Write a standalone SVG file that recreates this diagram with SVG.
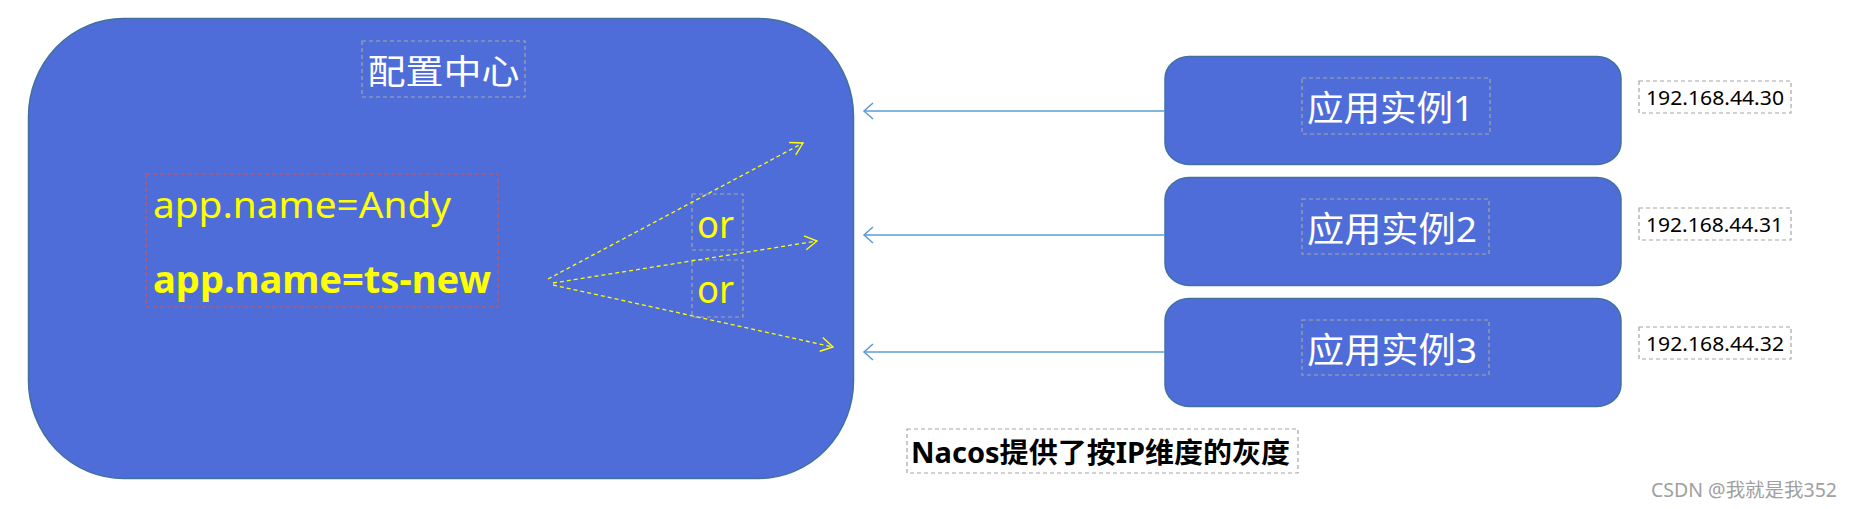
<svg xmlns="http://www.w3.org/2000/svg" width="1851" height="509" viewBox="0 0 1851 509">
<defs>
<style>
.node{fill:#4E6DD9;stroke:#41719C;stroke-width:1.5}
.gbox{fill:none;stroke:#A6A6A6;stroke-width:1.2;stroke-dasharray:4 3}
.rbox{fill:none;stroke:#D9534F;stroke-width:1.2;stroke-dasharray:4 3}
.wt{fill:#FFFFFF;font-family:"Noto Sans","Noto Sans CJK SC",sans-serif}
.yt{fill:#FFFF00;font-family:"Noto Sans","Noto Sans CJK SC",sans-serif}
.bt{fill:#000000;font-family:"Noto Sans","Noto Sans CJK SC",sans-serif}
.blue{stroke:#5B9BD5;stroke-width:1.5;fill:none}
.yel{stroke:#FFFF00;stroke-width:1.3;fill:none;stroke-dasharray:4 3}
</style>
<marker id="ab" markerWidth="12" markerHeight="18" refX="10" refY="9" orient="auto" markerUnits="userSpaceOnUse">
<path d="M1,1 L10,9 L1,17" fill="none" stroke="#5B9BD5" stroke-width="1.5"/>
</marker>
<marker id="ay" markerWidth="16" markerHeight="16" refX="15" refY="8" orient="auto" markerUnits="userSpaceOnUse">
<path d="M3,1 L15,8 L3,15" fill="none" stroke="#FFFF00" stroke-width="1.4"/>
</marker>
</defs>
<rect width="1851" height="509" fill="#FFFFFF"/>

<g id="config-center">
<rect class="node" x="28.5" y="18.5" width="825" height="460" rx="95" ry="98"/>
<rect class="gbox" x="362" y="41" width="163" height="56"/>
<text class="wt" x="443.5" y="84" font-size="34" text-anchor="middle" textLength="152" lengthAdjust="spacingAndGlyphs">配置中心</text>
<rect class="rbox" x="146" y="174" width="352" height="133"/>
<text class="yt" x="153" y="218" font-size="37" textLength="298" lengthAdjust="spacingAndGlyphs">app.name=Andy</text>
<text class="yt" x="153" y="293" font-size="37" font-weight="bold" textLength="338" lengthAdjust="spacingAndGlyphs">app.name=ts-new</text>
<rect class="gbox" x="692" y="194" width="51" height="56"/>
<text class="yt" x="697" y="238" font-size="38" textLength="37" lengthAdjust="spacingAndGlyphs">or</text>
<rect class="gbox" x="692" y="260" width="51" height="57"/>
<text class="yt" x="697" y="303" font-size="38" textLength="37" lengthAdjust="spacingAndGlyphs">or</text>
</g>

<g id="instance-1">
<rect class="node" x="1165" y="56.5" width="456" height="108" rx="24" ry="22"/>
<rect class="gbox" x="1302" y="78" width="188" height="56"/>
<text class="wt" x="1307" y="121" font-size="35" textLength="167" lengthAdjust="spacingAndGlyphs">应用实例1</text>
</g>
<g id="instance-2">
<rect class="node" x="1165" y="177.5" width="456" height="108" rx="24" ry="22"/>
<rect class="gbox" x="1302" y="199" width="187" height="55"/>
<text class="wt" x="1307" y="242" font-size="35" textLength="170" lengthAdjust="spacingAndGlyphs">应用实例2</text>
</g>
<g id="instance-3">
<rect class="node" x="1165" y="298.5" width="456" height="108" rx="24" ry="22"/>
<rect class="gbox" x="1302" y="320" width="187" height="55"/>
<text class="wt" x="1307" y="363" font-size="35" textLength="170" lengthAdjust="spacingAndGlyphs">应用实例3</text>
</g>

<g id="ip-1">
<rect class="gbox" x="1639" y="81" width="152" height="32"/>
<text class="bt" x="1646" y="105" font-size="19" textLength="138" lengthAdjust="spacingAndGlyphs">192.168.44.30</text>
</g>
<g id="ip-2">
<rect class="gbox" x="1639" y="208" width="152" height="32"/>
<text class="bt" x="1646" y="232" font-size="19" textLength="137" lengthAdjust="spacingAndGlyphs">192.168.44.31</text>
</g>
<g id="ip-3">
<rect class="gbox" x="1639" y="327" width="152" height="32"/>
<text class="bt" x="1646" y="351" font-size="19" textLength="138" lengthAdjust="spacingAndGlyphs">192.168.44.32</text>
</g>

<g id="note">
<rect class="gbox" x="907" y="429" width="391" height="44"/>
<text class="bt" x="911" y="463" font-size="28" font-weight="bold" textLength="379" lengthAdjust="spacingAndGlyphs">Nacos提供了按IP维度的灰度</text>
</g>

<g id="connectors">
<line class="blue" x1="1165" y1="111" x2="864" y2="111" marker-end="url(#ab)"/>
<line class="blue" x1="1165" y1="235" x2="864" y2="235" marker-end="url(#ab)"/>
<line class="blue" x1="1165" y1="352" x2="864" y2="352" marker-end="url(#ab)"/>
<line class="yel" x1="548" y1="279" x2="803" y2="143" marker-end="url(#ay)"/>
<line class="yel" x1="553" y1="283" x2="817" y2="241" marker-end="url(#ay)"/>
<line class="yel" x1="553" y1="285" x2="833" y2="347" marker-end="url(#ay)"/>
</g>

<text x="1837" y="497" font-size="19" fill="#A0A0A0" text-anchor="end" font-family="'Noto Sans','Noto Sans CJK SC',sans-serif" textLength="186" lengthAdjust="spacingAndGlyphs">CSDN @我就是我352</text>
</svg>
